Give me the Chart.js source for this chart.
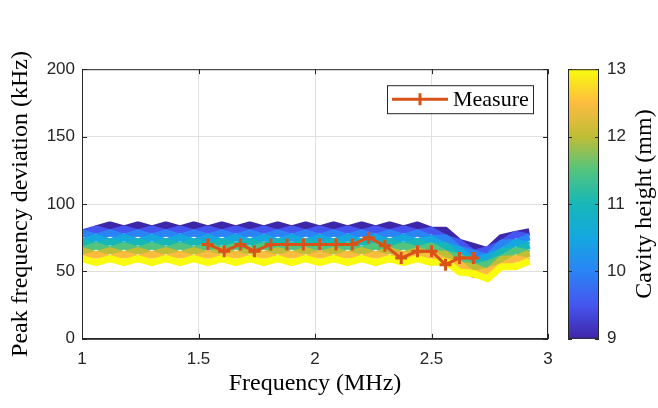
<!DOCTYPE html>
<html>
<head>
<meta charset="utf-8">
<script src="https://cdn.jsdelivr.net/npm/chart.js@4.4.1/dist/chart.umd.min.js"></script>
<style>
  html, body { margin: 0; padding: 0; background: #fff; }
  #wrap { width: 658px; height: 408px; }
</style>
</head>
<body>
<div id="wrap"><canvas id="chart" width="658" height="408"></canvas></div>
<script>
// ---- values ----
const measureFreq = [1.54, 1.61, 1.68, 1.74, 1.81, 1.88, 1.95, 2.02, 2.09, 2.16, 2.23, 2.30, 2.37, 2.44, 2.50, 2.56, 2.62, 2.68];
const measureDev  = [70, 65, 70, 65, 70, 70, 70, 70, 70, 70, 75, 69, 60, 65, 65, 55, 60, 60];

// simulated curves, one per cavity height (MHz / kHz)
const simFreq = [1.00, 1.06, 1.12, 1.18, 1.24, 1.30, 1.36, 1.42, 1.48, 1.54, 1.60, 1.66, 1.72, 1.78, 1.84, 1.90, 1.96,
                 2.02, 2.08, 2.14, 2.20, 2.26, 2.32, 2.38, 2.44, 2.50, 2.56, 2.62, 2.68, 2.74, 2.80, 2.86, 2.92];

const dev9   = [null, 81.5, 84.5, 81.5, 84.5, 81.5, 84.5, 81.5, 84.5, 81.5, 84.5, 81.5, 84.5, 81.5, 84.5, 81.5, 84.5,
                81.5, 84.5, 81.5, 84.5, 81.5, 84.5, 81.5, 84.5, 80.5, 80.5, 71.5, 68.5, 65.5, 75, 77.5, 79.5];
const dev9_5 = [78.5, 81.5, 78.5, 81.5, 78.5, 81.5, 78.5, 81.5, 78.5, 81.5, 78.5, 81.5, 78.5, 81.5, 78.5, 81.5, 78.5,
                81.5, 78.5, 81.5, 78.5, 81.5, 78.5, 81.5, 78.5, 80.5, 74.5, 71.5, 63.5, 66, 70.5, 77.5, 75.5];
const dev10  = [78.5, 75.5, 78.5, 75.5, 78.5, 75.5, 78.5, 75.5, 78.5, 75.5, 78.5, 75.5, 78.5, 75.5, 78.5, 75.5, 78.5,
                75.5, 78.5, 75.5, 78.5, 75.5, 78.5, 75.5, 78.5, 74.5, 75, 66.5, 63.5, 60.5, 71, 71.5, 75.5];
const dev10_5 = [72, 75, 72, 75, 72, 75, 72, 75, 72, 75, 72, 75, 72, 75, 72, 75, 72,
                 75, 72, 75, 72, 75, 72, 75, 72, 74, 69, 66, 58, 60.5, 64.5, 71.5, 69.5];
const dev11  = [72, 69, 72, 69, 72, 69, 72, 69, 72, 69, 72, 69, 72, 69, 72, 69, 72,
                69, 72, 69, 72, 69, 72, 69, 72, 68, 69, 60.5, 58.5, 55, 65, 65.5, 69.5];
const dev11_5 = [66, 69, 66, 69, 66, 69, 66, 69, 66, 69, 66, 69, 66, 69, 66, 69, 66,
                 69, 66, 69, 66, 69, 66, 69, 66, 69, 63, 61, 53, 55.5, 59.5, 65.5, 63.5];
const dev12  = [65.5, 62.5, 65.5, 62.5, 65.5, 62.5, 65.5, 62.5, 65.5, 62.5, 65.5, 62.5, 65.5, 62.5, 65.5, 62.5, 65.5,
                62.5, 65.5, 62.5, 65.5, 62.5, 65.5, 62.5, 65.5, 62.5, 63, 54.5, 53.5, 49.5, 59, 59.5, 63.5];
const dev12_5 = [59.5, 62.5, 59.5, 62.5, 59.5, 62.5, 59.5, 62.5, 59.5, 62.5, 59.5, 62.5, 59.5, 62.5, 59.5, 62.5, 59.5,
                 62.5, 59.5, 62.5, 59.5, 62.5, 59.5, 62.5, 59.5, 62.5, 57.5, 55.5, 47.5, 50, 53.5, 59.5, 57.5];
const dev13  = [59.5, 56.5, 59.5, 56.5, 59.5, 56.5, 59.5, 56.5, 59.5, 56.5, 59.5, 56.5, 59.5, 56.5, 59.5, 56.5, 59.5,
                56.5, 59.5, 56.5, 59.5, 56.5, 59.5, 56.5, 59.5, 56.5, 57.5, 49.5, 48.5, 44.5, 53.5, 53.5, 57.5];

const cavityHeights = [9, 9.5, 10, 10.5, 11, 11.5, 12, 12.5, 13];
const simSeries = [dev9, dev9_5, dev10, dev10_5, dev11, dev11_5, dev12, dev12_5, dev13];
// parula-like colours, 9 mm -> 13 mm
const heightColors = ['#3e26a8', '#4655ef', '#2a84f5', '#15a7e0', '#17b7b8', '#52c47f', '#c0bd36', '#fcbc40', '#f9fb0e'];

const measureColor = '#d95319';
const axisColor = '#262626';
const serif = 'Liberation Serif';
const sans = 'Liberation Sans';

// ---- datasets ----
const datasets = [{
    label: 'Measure',
    data: measureFreq.map((f, i) => ({ x: f, y: measureDev[i] })),
    borderColor: measureColor, backgroundColor: measureColor,
    borderWidth: 3, pointStyle: 'cross', pointRadius: 6, pointBorderWidth: 3,
    order: 0
}];
simSeries.forEach((vals, k) => {
    datasets.push({
        label: cavityHeights[k] + ' mm',
        data: simFreq.map((f, i) => ({ x: f, y: vals[i] })),
        borderColor: heightColors[k], borderWidth: 7, borderJoinStyle: 'round',
        pointRadius: 0, order: simSeries.length - k
    });
});

// colorbar, legend box, axes box and inward ticks, MATLAB style
const decor = {
    id: 'decor',
    afterDraw(chart) {
        const { ctx, chartArea: a, scales } = chart;
        ctx.save();

        // axes box
        ctx.strokeStyle = axisColor; ctx.lineWidth = 1;
        ctx.strokeRect(a.left + 0.5, a.top + 0.5, a.right - a.left - 1, a.bottom - a.top);

        // inward ticks
        ctx.beginPath();
        scales.x.ticks.forEach(t => {
            const px = Math.round(scales.x.getPixelForValue(t.value)) + 0.5;
            ctx.moveTo(px, a.bottom); ctx.lineTo(px, a.bottom - 5);
            ctx.moveTo(px, a.top); ctx.lineTo(px, a.top + 5);
        });
        scales.y.ticks.forEach(t => {
            const py = Math.round(scales.y.getPixelForValue(t.value)) + 0.5;
            ctx.moveTo(a.left, py); ctx.lineTo(a.left + 5, py);
            ctx.moveTo(a.right, py); ctx.lineTo(a.right - 5, py);
        });
        ctx.stroke();

        // colorbar
        const cb = scales.cb;
        const bx0 = cb.left + 20, bx1 = cb.left + 51;
        const grad = ctx.createLinearGradient(0, cb.bottom, 0, cb.top);
        heightColors.forEach((c, i) => grad.addColorStop(i / (heightColors.length - 1), c));
        ctx.fillStyle = grad;
        ctx.fillRect(bx0, cb.top, bx1 - bx0, cb.bottom - cb.top);
        ctx.strokeStyle = axisColor;
        ctx.strokeRect(bx0 + 0.5, cb.top + 0.5, bx1 - bx0 - 1, cb.bottom - cb.top - 1);
        ctx.beginPath();
        cb.ticks.forEach(t => {
            const py = Math.round(cb.getPixelForValue(t.value)) + 0.5;
            ctx.moveTo(bx0, py); ctx.lineTo(bx0 + 4, py);
            ctx.moveTo(bx1, py); ctx.lineTo(bx1 - 4, py);
        });
        ctx.stroke();

        // colorbar title (reads bottom to top)
        ctx.save();
        ctx.translate(cb.right - 13, (cb.top + cb.bottom) / 2);
        ctx.rotate(-Math.PI / 2);
        ctx.fillStyle = '#000';
        ctx.font = '24px "' + serif + '"';
        ctx.textAlign = 'center'; ctx.textBaseline = 'middle';
        ctx.fillText('Cavity height (mm)', 0, 0);
        ctx.restore();

        // legend box for the measured series
        const ds = chart.data.datasets[0];
        const lx1 = a.right - 15, lx0 = lx1 - 146, ly0 = a.top + 16, ly1 = ly0 + 28;
        const my = (ly0 + ly1) / 2;
        ctx.fillStyle = '#fff';
        ctx.fillRect(lx0, ly0, lx1 - lx0, ly1 - ly0);
        ctx.strokeStyle = axisColor; ctx.lineWidth = 1;
        ctx.strokeRect(lx0 + 0.5, ly0 + 0.5, lx1 - lx0, ly1 - ly0);
        ctx.strokeStyle = ds.borderColor; ctx.lineWidth = 3;
        ctx.beginPath();
        ctx.moveTo(lx0 + 5, my); ctx.lineTo(lx0 + 61, my);
        ctx.moveTo(lx0 + 33, my - 6); ctx.lineTo(lx0 + 33, my + 6);
        ctx.stroke();
        ctx.fillStyle = '#000';
        ctx.font = '22px "' + serif + '"';
        ctx.textAlign = 'left'; ctx.textBaseline = 'middle';
        ctx.fillText(ds.label, lx0 + 66, my + 1);

        ctx.restore();
    }
};

new Chart(document.getElementById('chart'), {
    type: 'line',
    data: { datasets },
    plugins: [decor],
    options: {
        responsive: false, animation: false, devicePixelRatio: 1,
        layout: { padding: { top: 19, left: 0, right: 0, bottom: 0 } },
        plugins: { legend: { display: false }, tooltip: { enabled: false } },
        scales: {
            x: {
                type: 'linear', min: 1, max: 3,
                ticks: { stepSize: 0.5, padding: 10, color: axisColor, font: { family: sans, size: 17 },
                         callback: v => String(v) },
                grid: { color: '#e0e0e0', drawTicks: false },
                border: { color: axisColor },
                title: { display: true, text: 'Frequency (MHz)', color: '#000',
                         font: { family: serif, size: 24, lineHeight: 1 }, padding: { top: 0, bottom: 0 } },
                afterFit: s => { s.height = 57; }
            },
            y: {
                min: 0, max: 200,
                ticks: { stepSize: 50, padding: 7, color: axisColor, font: { family: sans, size: 17 } },
                grid: { color: '#e0e0e0', drawTicks: false },
                border: { color: axisColor },
                title: { display: true, text: 'Peak frequency deviation (kHz)', color: '#000',
                         font: { family: serif, size: 24, lineHeight: 1 }, padding: { top: 9, bottom: 0 } },
                afterFit: s => { s.width = 82; }
            },
            cb: {
                position: 'right', min: 9, max: 13,
                ticks: { stepSize: 1, padding: 59, color: axisColor, font: { family: sans, size: 17 } },
                grid: { display: false, drawTicks: false },
                border: { display: false },
                afterFit: s => { s.width = 110; }
            }
        }
    }
});
</script>
</body>
</html>
